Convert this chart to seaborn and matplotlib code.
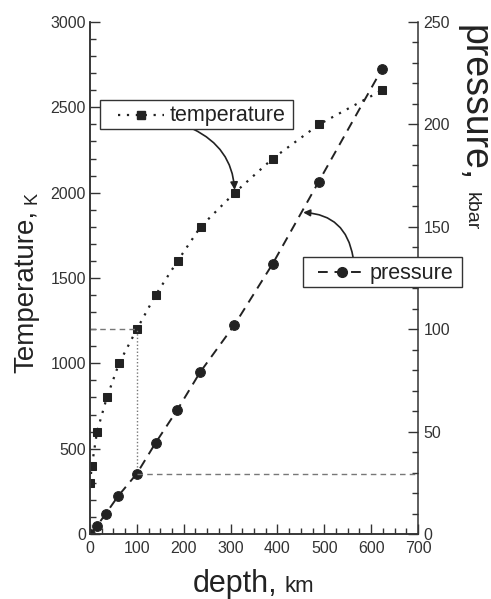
import matplotlib
matplotlib.use('Agg')
import matplotlib.pyplot as plt
from matplotlib.ticker import MultipleLocator
from matplotlib.patches import Rectangle
from matplotlib.lines import Line2D
import seaborn as sns
import pandas as pd

# data
temp_depth = [0, 4, 15, 36, 62, 100, 140, 187, 236, 309, 390, 489, 623]
temp_K = [300, 400, 600, 800, 1000, 1200, 1400, 1600, 1800, 2000, 2200, 2400, 2600]
pres_depth = [0, 15, 34, 60, 100, 140, 186, 235, 308, 390, 488, 623]
pres_kbar = [0, 4, 10, 18.5, 29.5, 44.5, 60.5, 79, 102, 132, 172, 227]

# point on the pressure curve the arrow goes to
pres_arrow = (455, 157)

W, H = 491, 599

sns.set_style('ticks')
plt.rcParams['font.family'] = ['Liberation Sans', 'DejaVu Sans']

ink = '#222222'
grey = '#333333'
temp_ls = (0, (1, 3))
pres_ls = (0, (5, 3.5))


def fx(px):
    return px / W


def fy(py):
    return 1 - py / H


fig = plt.figure(figsize=(W / 100, H / 100), dpi=100)
ax = fig.add_axes([fx(90), fy(534), fx(418) - fx(90), fy(22) - fy(534)])
ax2 = ax.twinx()

df_t = pd.DataFrame({'depth': temp_depth, 'T': temp_K})
df_p = pd.DataFrame({'depth': pres_depth, 'P': pres_kbar})

sns.lineplot(data=df_t, x='depth', y='T', ax=ax, color=ink, marker='s',
             markersize=5.5, markeredgecolor=ink, linewidth=1.6, legend=False)
ax.lines[-1].set_linestyle(temp_ls)
sns.lineplot(data=df_p, x='depth', y='P', ax=ax2, color=ink, marker='o',
             markersize=7, markeredgecolor=ink, linewidth=1.4, legend=False)
ax2.lines[-1].set_linestyle(pres_ls)

# guide lines at 100 km
k_per_kbar = 3000 / 250
ax.hlines(temp_K[5], 0, temp_depth[5], colors='#777777', linestyles=(0, (4, 3)), lw=1)
ax.vlines(temp_depth[5], pres_kbar[4] * k_per_kbar, temp_K[5], colors='#777777',
          linestyles=(0, (1, 1.5)), lw=1)
ax2.hlines(pres_kbar[4], pres_depth[4], 700, colors='#777777', linestyles=(0, (4, 3)), lw=1)

ax.set_xlim(0, 700)
ax.set_ylim(0, 3000)
ax2.set_ylim(0, 250)
ax.set_xlabel('')
ax.set_ylabel('')
ax2.set_ylabel('')

ax.xaxis.set_major_locator(MultipleLocator(100))
ax.xaxis.set_minor_locator(MultipleLocator(25))
ax.yaxis.set_major_locator(MultipleLocator(500))
ax.yaxis.set_minor_locator(MultipleLocator(100))
ax2.yaxis.set_major_locator(MultipleLocator(50))
ax2.yaxis.set_minor_locator(MultipleLocator(10))

for a in (ax, ax2):
    a.tick_params(which='both', direction='in', width=1, color=grey,
                  labelsize=11.5, labelcolor=grey)
    a.tick_params(which='major', length=7)
    a.tick_params(which='minor', length=4)
    a.spines['top'].set_visible(False)
    for s in a.spines.values():
        s.set_color(grey)
        s.set_linewidth(1.1)
ax.tick_params(axis='x', pad=5)
ax.tick_params(axis='y', pad=3)
ax2.tick_params(axis='y', pad=4)
ax.spines['right'].set_visible(False)

# axis titles, big word plus smaller unit
fig.text(fx(33), fy(373), 'Temperature,', rotation=90, rotation_mode='anchor',
         ha='left', va='baseline', fontsize=20, color=ink)
fig.text(fx(37), fy(204), 'K', rotation=90, rotation_mode='anchor',
         ha='left', va='baseline', fontsize=13, color=ink)
fig.text(fx(193), fy(592), 'depth,', ha='left', va='baseline', fontsize=22, color=ink)
fig.text(fx(285), fy(592), 'km', ha='left', va='baseline', fontsize=16, color=ink)
fig.text(fx(464), fy(25), 'pressure,', rotation=-90, rotation_mode='anchor',
         ha='left', va='baseline', fontsize=27, color=ink)
fig.text(fx(467), fy(192), 'kbar', rotation=-90, rotation_mode='anchor',
         ha='left', va='baseline', fontsize=14, color=ink)


# legend boxes drawn the Origin way
def legend_box(x0, y0, x1, y1, hx0, hx1, tx, label, src, ls):
    yc = (y0 + y1) / 2
    fig.patches.append(Rectangle((fx(x0), fy(y1)), fx(x1) - fx(x0), fy(y0) - fy(y1),
                                 transform=fig.transFigure, facecolor='white',
                                 edgecolor=grey, lw=1, zorder=5))
    fig.lines.append(Line2D([fx(hx0), fx((hx0 + hx1) / 2), fx(hx1)], [fy(yc)] * 3,
                            transform=fig.transFigure, color=ink, linestyle=ls,
                            linewidth=src.get_linewidth(), marker=src.get_marker(),
                            markersize=src.get_markersize(), markevery=[1], zorder=6))
    fig.text(fx(tx), fy(yc + 1), label, ha='left', va='center', fontsize=15.5,
             color=ink, zorder=7)


legend_box(100, 100, 293, 129, 118, 164, 170, 'temperature', ax.lines[0], temp_ls)
legend_box(303, 257, 462, 287, 318, 366, 370, 'pressure', ax2.lines[0], pres_ls)

# arrows from the boxes to the curves
ax.annotate('', xy=(temp_depth[9], temp_K[9]), xycoords='data',
            xytext=(fx(193), fy(129)), textcoords='figure fraction',
            arrowprops=dict(arrowstyle='-|>', connectionstyle='arc3,rad=-0.3',
                            color=ink, lw=1.2, shrinkA=0, shrinkB=2, mutation_scale=11))
ax2.annotate('', xy=pres_arrow, xycoords='data',
             xytext=(fx(353), fy(257)), textcoords='figure fraction',
             arrowprops=dict(arrowstyle='-|>', connectionstyle='arc3,rad=0.4',
                             color=ink, lw=1.2, shrinkA=0, shrinkB=0, mutation_scale=10))

fig.savefig('out.png', dpi=100)
